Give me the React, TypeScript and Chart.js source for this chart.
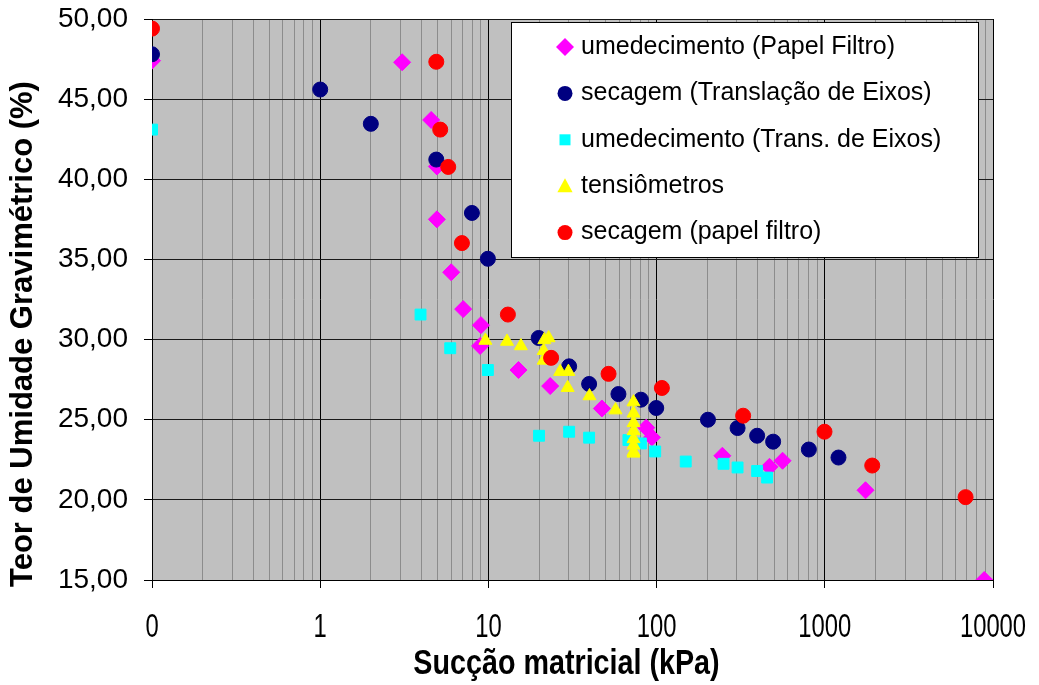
import React, { useEffect, useRef } from 'react';
import { Chart, registerables } from 'chart.js';

Chart.register(...registerables);

// ---- axes ----
const xTickValues = [0.1, 1, 10, 100, 1000, 10000];
const xTickLabels = ['0', '1', '10', '100', '1000', '10000'];
const yMin = 15;
const yMax = 50;
const yStep = 5;
const xAxisTitle = 'Sucção matricial (kPa)';
const yAxisTitle = 'Teor de Umidade Gravimétrico (%)';

// ---- series ----
const seriesLabels = [
  'umedecimento (Papel Filtro)',
  'secagem (Translação de Eixos)',
  'umedecimento (Trans. de Eixos)',
  'tensiômetros',
  'secagem (papel filtro)',
];

const umedPapelX = [0.1, 3.07, 4.57, 4.94, 4.94, 6.01, 7.08, 9.03, 8.93, 15.1, 23.3, 47.3, 86.7, 93.8, 246, 469, 561, 1746, 8870];
const umedPapelY = [47.4, 47.3, 43.7, 40.8, 37.5, 34.2, 31.9, 30.9, 29.6, 28.1, 27.1, 25.7, 24.5, 23.9, 22.75, 22.06, 22.44, 20.6, 15.0];

const secTransX = [0.1, 1, 2, 4.9, 7.98, 9.93, 19.9, 30.2, 39.7, 59.3, 80.7, 99.5, 202, 303, 396, 493, 804, 1206];
const secTransY = [47.8, 45.6, 43.46, 41.23, 37.9, 35.04, 30.1, 28.33, 27.23, 26.6, 26.25, 25.73, 25.0, 24.48, 24.0, 23.63, 23.14, 22.64];

const umedTransX = [0.1, 3.95, 5.93, 9.93, 20, 30.2, 39.7, 68, 80.7, 98.1, 149, 250, 303, 396, 454];
const umedTransY = [43.1, 31.56, 29.46, 28.1, 24.0, 24.25, 23.88, 23.73, 23.52, 23.02, 22.39, 22.25, 22.02, 21.8, 21.39];

const tensioX = [9.6, 12.9, 15.6, 21.3, 21.3, 21.5, 22.8, 26.7, 29.9, 29.6, 39.9, 57.0, 72.9, 72.9, 72.9, 72.9, 72.9, 72.9, 72.9, 72.9];
const tensioY = [29.94, 29.88, 29.6, 29.3, 28.7, 29.98, 30.1, 28.0, 28.0, 27.0, 26.48, 25.6, 26.1, 25.4, 24.8, 24.3, 23.8, 23.4, 23.0, 22.9];

const secPapelX = [0.1, 4.9, 5.17, 5.77, 6.96, 13.06, 23.6, 51.8, 107.5, 327, 996, 1914, 6870];
const secPapelY = [49.4, 47.33, 43.1, 40.77, 36.02, 31.56, 28.86, 27.86, 26.98, 25.25, 24.25, 22.14, 20.17];

const toPoints = (xs: number[], ys: number[]) => xs.map((x, i) => ({ x, y: ys[i] }));

const FONT = "'Liberation Sans', Arial, sans-serif";

function drawMarker(ctx: CanvasRenderingContext2D, style: string, x: number, y: number, r: number, color: string) {
  ctx.save();
  ctx.fillStyle = color;
  ctx.beginPath();
  if (style === 'rectRot') {
    ctx.moveTo(x, y - r);
    ctx.lineTo(x + r, y);
    ctx.lineTo(x, y + r);
    ctx.lineTo(x - r, y);
    ctx.closePath();
  } else if (style === 'rect') {
    ctx.rect(x - r, y - r, 2 * r, 2 * r);
  } else if (style === 'triangle') {
    ctx.moveTo(x, y - r);
    ctx.lineTo(x + r * 0.95, y + r * 0.75);
    ctx.lineTo(x - r * 0.95, y + r * 0.75);
    ctx.closePath();
  } else {
    ctx.arc(x, y, r, 0, Math.PI * 2);
  }
  ctx.fill();
  ctx.restore();
}

const backgroundPlugin = {
  id: 'plotBackground',
  beforeDraw(chart: any) {
    const { ctx, chartArea } = chart;
    ctx.save();
    ctx.fillStyle = '#ffffff';
    ctx.fillRect(0, 0, chart.width, chart.height);
    ctx.fillStyle = '#c0c0c0';
    ctx.fillRect(chartArea.left, chartArea.top, chartArea.right - chartArea.left, chartArea.bottom - chartArea.top);
    ctx.restore();
  },
};

// axis texts (Excel-style condensed lettering on the category axis)
const axisTextPlugin = {
  id: 'axisTexts',
  afterDraw(chart: any) {
    const { ctx, chartArea } = chart;
    const xs = chart.scales.x;
    ctx.save();
    ctx.fillStyle = '#000';
    ctx.textAlign = 'center';
    ctx.textBaseline = 'middle';
    // x tick labels
    ctx.font = `34px ${FONT}`;
    xTickValues.forEach((v, i) => {
      const px = xs.getPixelForValue(v);
      ctx.save();
      ctx.translate(px, chartArea.bottom + 48);
      ctx.scale(0.7, 1);
      ctx.fillText(xTickLabels[i], 0, 0);
      ctx.restore();
    });
    // x title
    ctx.font = `bold 35px ${FONT}`;
    ctx.save();
    ctx.translate((chartArea.left + chartArea.right) / 2 - 6, chartArea.bottom + 84);
    ctx.scale(0.82, 1);
    ctx.fillText(xAxisTitle, 0, 0);
    ctx.restore();
    // y title
    ctx.save();
    ctx.translate(23, chartArea.top + 315);
    ctx.rotate(-Math.PI / 2);
    ctx.font = `bold 31px ${FONT}`;
    ctx.fillText(yAxisTitle, 0, 0);
    ctx.restore();
    ctx.restore();
  },
};

const legendMarkerSize: Record<string, number> = { rectRot: 9, circle: 7.5, rect: 5.5, triangle: 8 };

const boxLegendPlugin = {
  id: 'boxLegend',
  afterDraw(chart: any) {
    const { ctx, chartArea } = chart;
    const bx = chartArea.left + 359;
    const by = chartArea.top + 3;
    const bw = 467;
    const bh = 235;
    ctx.save();
    ctx.fillStyle = '#ffffff';
    ctx.fillRect(bx, by, bw, bh);
    ctx.strokeStyle = '#000';
    ctx.lineWidth = 1;
    ctx.strokeRect(bx + 0.5, by + 0.5, bw, bh);
    ctx.font = `25px ${FONT}`;
    ctx.textBaseline = 'middle';
    ctx.textAlign = 'left';
    chart.data.datasets.forEach((ds: any, i: number) => {
      const cy = by + 25 + i * 46.4;
      const st = ds.pointStyle as string;
      drawMarker(ctx, st, bx + 54, cy, legendMarkerSize[st] || 7, ds.backgroundColor);
      ctx.fillStyle = '#000';
      ctx.fillText(ds.label, bx + 70, cy);
    });
    ctx.restore();
  },
};

export default function App() {
  const canvasRef = useRef<HTMLCanvasElement | null>(null);

  useEffect(() => {
    document.body.style.margin = '0';
    const canvas = canvasRef.current;
    if (!canvas) return;

    const mk = (i: number, xs: number[], ys: number[], color: string, style: string, radius: number, order: number) => ({
      label: seriesLabels[i],
      data: toPoints(xs, ys),
      backgroundColor: color,
      borderColor: color,
      pointStyle: style,
      pointRadius: radius,
      pointHoverRadius: radius,
      pointBorderWidth: 1,
      showLine: false,
      order,
    });

    const chart = new Chart(canvas, {
      type: 'scatter',
      data: {
        datasets: [
          mk(0, umedPapelX, umedPapelY, '#ff00ff', 'rectRot', 8.5, 5),
          mk(1, secTransX, secTransY, '#000080', 'circle', 7.5, 4),
          mk(2, umedTransX, umedTransY, '#00ffff', 'rect', 7.7, 3),
          mk(3, tensioX, tensioY, '#ffff00', 'triangle', 7.5, 2),
          mk(4, secPapelX, secPapelY, '#ff0000', 'circle', 7.5, 1),
        ],
      },
      options: {
        responsive: false,
        animation: false,
        events: [],
        layout: { padding: { top: 19, right: 46, left: 0, bottom: 0 } },
        plugins: {
          legend: { display: false },
          tooltip: { enabled: false },
        },
        scales: {
          x: {
            type: 'logarithmic',
            min: xTickValues[0],
            max: xTickValues[xTickValues.length - 1],
            afterBuildTicks: (scale: any) => {
              const ticks: any[] = [];
              for (let d = 0; d < xTickValues.length; d++) {
                const base = xTickValues[d];
                ticks.push({ value: base, major: true });
                if (d < xTickValues.length - 1) {
                  for (let k = 2; k <= 9; k++) ticks.push({ value: base * k, major: false });
                }
              }
              scale.ticks = ticks;
            },
            afterFit: (scale: any) => {
              scale.height = 105;
              scale.paddingLeft = 0;
              scale.paddingRight = 0;
              scale.paddingTop = 0;
              scale.paddingBottom = 0;
            },
            ticks: {
              display: false,
              autoSkip: false,
              maxRotation: 0,
              minRotation: 0,
            },
            grid: {
              color: (c: any) => (c.tick && c.tick.major ? '#000000' : '#8c8c8c'),
              tickColor: (c: any) => (c.tick && c.tick.major ? '#000000' : 'rgba(0,0,0,0)'),
              lineWidth: 1,
              tickLength: 8,
            },
            border: { color: '#000', width: 1 },
            title: { display: false },
          },
          y: {
            type: 'linear',
            min: yMin,
            max: yMax,
            afterFit: (scale: any) => {
              scale.width = 152;
              scale.paddingLeft = 0;
              scale.paddingRight = 0;
              scale.paddingTop = 0;
              scale.paddingBottom = 0;
            },
            ticks: {
              stepSize: yStep,
              padding: 16,
              color: '#000',
              font: { family: FONT, size: 28 },
              callback: (value: any) => Number(value).toFixed(2).replace('.', ','),
            },
            grid: {
              color: '#1a1a1a',
              tickColor: '#000',
              lineWidth: 1,
              tickLength: 8,
            },
            border: { color: '#000', width: 1 },
            title: { display: false },
          },
        },
      } as any,
      plugins: [backgroundPlugin, axisTextPlugin, boxLegendPlugin],
    });

    return () => chart.destroy();
  }, []);

  return (
    <div style={{ position: 'absolute', left: 0, top: 0, width: 1039, height: 685 }}>
      <canvas ref={canvasRef} width={1039} height={685} style={{ display: 'block' }} />
    </div>
  );
}
